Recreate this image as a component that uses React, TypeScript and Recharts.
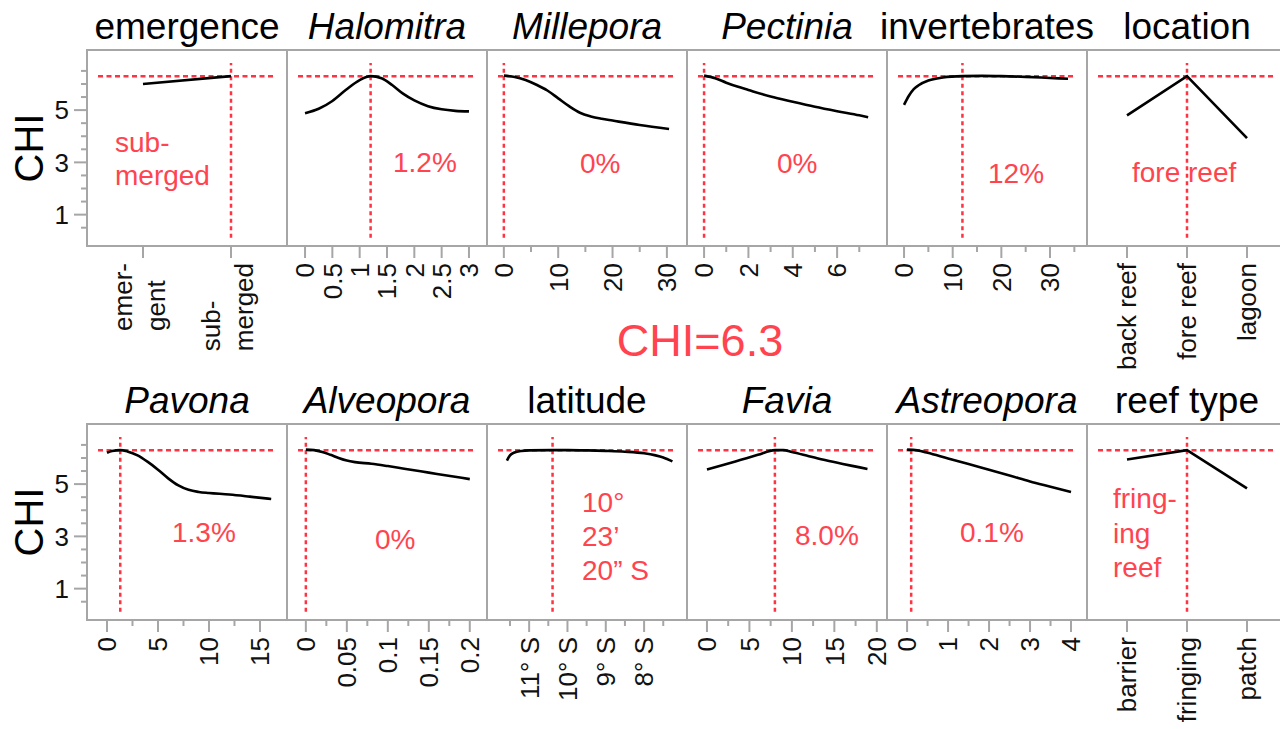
import { LineChart, Line, XAxis, YAxis, ReferenceLine } from "recharts";

const FONT = '"Liberation Sans", Arial, Helvetica, sans-serif';
const RED_LINE = "#ff3341";
const RED_TEXT = "#ff4450";
const GRAY = "#a6a6a6";

const CURRENT_CHI = 6.3;
const chiTicks = [0.5, 1, 1.5, 2, 2.5, 3, 3.5, 4, 4.5, 5, 5.5, 6, 6.5];
const chiMajor = [1, 3, 5];

// top row
const emergenceLevels = ["emergent", "submerged"];
const emergenceTickLabels = ["emer-\ngent", "sub-\nmerged"];
const emergenceCHI = [6.0, 6.3];

const halomitraX = [0, 0.25, 0.5, 0.75, 1.0, 1.2, 1.4, 1.6, 1.8, 2.0, 2.25, 2.5, 2.75, 3.0];
const halomitraCHI = [4.88, 5.05, 5.35, 5.78, 6.15, 6.3, 6.22, 5.95, 5.62, 5.37, 5.15, 5.03, 4.97, 4.95];
const halomitraTicks = [0, 0.5, 1, 1.5, 2, 2.5, 3];

const milleporaX = [0, 2, 4, 6, 8, 10, 12, 14, 16, 18, 20, 25, 30.4];
const milleporaCHI = [6.32, 6.27, 6.15, 5.97, 5.75, 5.45, 5.15, 4.9, 4.76, 4.67, 4.6, 4.43, 4.28];
const milleporaTicks = [0, 10, 20, 30];
const milleporaMinor = [5, 15, 25];

const pectiniaX = [0, 0.5, 1, 1.5, 2, 3, 4, 5, 6, 7, 7.4];
const pectiniaCHI = [6.32, 6.22, 6.05, 5.9, 5.77, 5.52, 5.32, 5.13, 4.96, 4.8, 4.73];
const pectiniaTicks = [0, 2, 4, 6];
const pectiniaMinor = [1, 3, 5, 7];

const invertebratesX = [0, 1, 2, 3, 5, 8, 12, 16, 20, 25, 30, 33.7];
const invertebratesCHI = [5.2, 5.55, 5.8, 5.95, 6.13, 6.25, 6.3, 6.31, 6.3, 6.27, 6.23, 6.2];
const invertebratesTicks = [0, 10, 20, 30];
const invertebratesMinor = [5, 15, 25, 35];

const locationLevels = ["back reef", "fore reef", "lagoon"];
const locationCHI = [4.8, 6.3, 3.93];

// bottom row
const pavonaX = [0, 0.5, 1.3, 2, 3, 4, 5, 6, 7, 8, 9, 10, 12, 14, 16.1];
const pavonaCHI = [6.2, 6.27, 6.3, 6.25, 6.1, 5.85, 5.55, 5.22, 4.95, 4.78, 4.7, 4.66, 4.6, 4.52, 4.43];
const pavonaTicks = [0, 5, 10, 15];
const pavonaMinor = [2.5, 7.5, 12.5];

const alveoporaX = [0, 0.01, 0.02, 0.03, 0.04, 0.05, 0.06, 0.08, 0.1, 0.12, 0.14, 0.16, 0.18, 0.2];
const alveoporaCHI = [6.32, 6.3, 6.23, 6.12, 6.0, 5.9, 5.84, 5.78, 5.69, 5.59, 5.49, 5.39, 5.29, 5.19];
const alveoporaTicks = [0, 0.05, 0.1, 0.15, 0.2];
const alveoporaMinor = [0.025, 0.075, 0.125, 0.175];

const latitudeX = [-11.58, -11.5, -11.4, -11.2, -11, -10.39, -10, -9.5, -9, -8.5, -8, -7.7, -7.5, -7.26];
const latitudeCHI = [5.9, 6.1, 6.2, 6.27, 6.29, 6.3, 6.3, 6.29, 6.27, 6.24, 6.18, 6.1, 6.02, 5.87];
const latitudeTicks = [-11, -10, -9, -8];
const latitudeTickLabels = ["11° S", "10° S", "9° S", "8° S"];
const latitudeMinor = [-11.5, -10.5, -9.5, -8.5, -7.5];

const faviaX = [0, 2, 4, 6, 8, 9, 10, 12, 14, 16, 18, 18.9];
const faviaCHI = [5.56, 5.74, 5.93, 6.12, 6.3, 6.3, 6.23, 6.07, 5.91, 5.77, 5.64, 5.58];
const faviaTicks = [0, 5, 10, 15, 20];
const faviaMinor = [2.5, 7.5, 12.5, 17.5];

const astreoporaX = [0, 0.25, 0.5, 1, 1.5, 2, 2.5, 3, 3.5, 4];
const astreoporaCHI = [6.32, 6.29, 6.2, 5.98, 5.77, 5.55, 5.33, 5.1, 4.9, 4.7];
const astreoporaTicks = [0, 1, 2, 3, 4];
const astreoporaMinor = [0.5, 1.5, 2.5, 3.5];

const reefTypeLevels = ["barrier", "fringing", "patch"];
const reefTypeCHI = [5.94, 6.3, 4.84];

type Panel = {
  title: string;
  italic: boolean;
  cat: boolean;
  xs: (number | string)[];
  ys: number[];
  ticks: (number | string)[];
  labels: string[];
  minor: number[];
  domain?: [number, number];
  pad?: number;
  refX: number | string;
  note: string[];
  noteDx: number;
  noteDy: number;
  noteLh: number;
};

const topRow: Panel[] = [
  { title: "emergence", italic: false, cat: true, xs: emergenceLevels, ys: emergenceCHI, ticks: emergenceLevels, labels: emergenceTickLabels, minor: [], pad: 56, refX: "submerged", note: ["sub-", "merged"], noteDx: 28, noteDy: 76, noteLh: 33 },
  { title: "Halomitra", italic: true, cat: false, xs: halomitraX, ys: halomitraCHI, ticks: halomitraTicks, labels: halomitraTicks.map(String), minor: [], domain: [-0.33, 3.33], refX: 1.2, note: ["1.2%"], noteDx: 106, noteDy: 96, noteLh: 34 },
  { title: "Millepora", italic: true, cat: false, xs: milleporaX, ys: milleporaCHI, ticks: milleporaTicks, labels: milleporaTicks.map(String), minor: milleporaMinor, domain: [-3.1, 33.7], refX: 0, note: ["0%"], noteDx: 93, noteDy: 97, noteLh: 34 },
  { title: "Pectinia", italic: true, cat: false, xs: pectiniaX, ys: pectiniaCHI, ticks: pectiniaTicks, labels: pectiniaTicks.map(String), minor: pectiniaMinor, domain: [-0.77, 8.25], refX: 0, note: ["0%"], noteDx: 90, noteDy: 97, noteLh: 34 },
  { title: "invertebrates", italic: false, cat: false, xs: invertebratesX, ys: invertebratesCHI, ticks: invertebratesTicks, labels: invertebratesTicks.map(String), minor: invertebratesMinor, domain: [-3.5, 37.6], refX: 12, note: ["12%"], noteDx: 101, noteDy: 107, noteLh: 34 },
  { title: "location", italic: false, cat: true, xs: locationLevels, ys: locationCHI, ticks: locationLevels, labels: locationLevels, minor: [], pad: 40, refX: "fore reef", note: ["fore reef"], noteDx: 45, noteDy: 106, noteLh: 34 },
];

const bottomRow: Panel[] = [
  { title: "Pavona", italic: true, cat: false, xs: pavonaX, ys: pavonaCHI, ticks: pavonaTicks, labels: pavonaTicks.map(String), minor: pavonaMinor, domain: [-1.96, 17.65], refX: 1.3, note: ["1.3%"], noteDx: 85, noteDy: 92, noteLh: 34 },
  { title: "Alveopora", italic: true, cat: false, xs: alveoporaX, ys: alveoporaCHI, ticks: alveoporaTicks, labels: alveoporaTicks.map(String), minor: alveoporaMinor, domain: [-0.023, 0.221], refX: 0, note: ["0%"], noteDx: 88, noteDy: 99, noteLh: 34 },
  { title: "latitude", italic: false, cat: false, xs: latitudeX, ys: latitudeCHI, ticks: latitudeTicks, labels: latitudeTickLabels, minor: latitudeMinor, domain: [-12.1, -6.88], refX: -10.389, note: ["10°", "23’", "20” S"], noteDx: 95, noteDy: 62, noteLh: 34 },
  { title: "Favia", italic: true, cat: false, xs: faviaX, ys: faviaCHI, ticks: faviaTicks, labels: faviaTicks.map(String), minor: faviaMinor, domain: [-2.35, 21.2], refX: 8, note: ["8.0%"], noteDx: 108, noteDy: 95, noteLh: 34 },
  { title: "Astreopora", italic: true, cat: false, xs: astreoporaX, ys: astreoporaCHI, ticks: astreoporaTicks, labels: astreoporaTicks.map(String), minor: astreoporaMinor, domain: [-0.49, 4.39], refX: 0.1, note: ["0.1%"], noteDx: 73, noteDy: 92, noteLh: 34 },
  { title: "reef type", italic: false, cat: true, xs: reefTypeLevels, ys: reefTypeCHI, ticks: reefTypeLevels, labels: reefTypeLevels, minor: [], pad: 40, refX: "fringing", note: ["fring-", "ing", "reef"], noteDx: 26, noteDy: 58, noteLh: 34.5 },
];

const PANEL_X0 = 87;
const PANEL_W = 200;
const PANEL_H = 196;
const AXIS_H = 140;
const ROW_TOPS = [50, 424];
const TICK_FS = 26;

// rough Arial advance widths, used to left-align the two-line tick labels
function textWidth(s: string) {
  let w = 0;
  for (const ch of s) {
    if ("ilj".includes(ch)) w += 0.222;
    else if ("ft ".includes(ch)) w += 0.278;
    else if ("r-".includes(ch)) w += 0.333;
    else if (ch === "m") w += 0.833;
    else if ("sckvy".includes(ch)) w += 0.5;
    else w += 0.556;
  }
  return w * TICK_FS;
}

function renderXTick(props: any, panel: Panel) {
  const { x, y, payload } = props;
  const v = payload.value;
  const isMinor = panel.minor.includes(v);
  const len = isMinor ? 6 : 12;
  let label: any = null;
  if (!isMinor) {
    const idx = panel.ticks.indexOf(v);
    const text = idx >= 0 ? panel.labels[idx] : String(v);
    const lines = text.split("\n");
    const top = y + 17;
    const common = { fontSize: TICK_FS, fill: "#111", fontFamily: FONT, dy: "0.36em" };
    if (lines.length === 1) {
      label = (
        <text x={x} y={top} transform={`rotate(-90 ${x} ${top})`} textAnchor="end" {...common}>
          {text}
        </text>
      );
    } else {
      const start = top + Math.max(...lines.map(textWidth));
      label = lines.map((ln, i) => {
        const lx = x - 4 + (i - (lines.length - 1) / 2) * 33;
        return (
          <text key={i} x={lx} y={start} transform={`rotate(-90 ${lx} ${start})`} textAnchor="start" {...common}>
            {ln}
          </text>
        );
      });
    }
  }
  return (
    <g>
      <line x1={x} x2={x} y1={y} y2={y + len} stroke={GRAY} strokeWidth={2} />
      {label}
    </g>
  );
}

function renderYTick(props: any) {
  const { x, y, payload } = props;
  const major = chiMajor.includes(payload.value);
  return (
    <g>
      <line x1={x - (major ? 13 : 6)} x2={x} y1={y} y2={y} stroke={GRAY} strokeWidth={2} />
      {major && (
        <text x={x - 18} y={y} dy="0.36em" textAnchor="end" fontSize={TICK_FS} fill="#111" fontFamily={FONT}>
          {payload.value}
        </text>
      )}
    </g>
  );
}

const hLine = (p: any) => (
  <line x1={p.x1 + 11} x2={p.x2 - 14} y1={p.y1} y2={p.y2} stroke={RED_LINE} strokeWidth={2.5} strokeDasharray="5 3.5" />
);

function PanelChart({ panel, first }: { panel: Panel; first: boolean }) {
  const data = panel.xs.map((x, i) => ({ x, chi: panel.ys[i] }));
  const yW = first ? PANEL_X0 : 0;
  const allTicks = panel.cat
    ? undefined
    : [...(panel.ticks as number[]), ...panel.minor].sort((a, b) => a - b);
  return (
    <LineChart width={PANEL_W + yW} height={PANEL_H + AXIS_H} data={data} margin={{ top: 0, right: 0, bottom: 0, left: 0 }}>
      {panel.cat ? (
        <XAxis
          dataKey="x"
          type="category"
          scale="point"
          padding={{ left: panel.pad!, right: panel.pad! }}
          interval={0}
          tickSize={0}
          tickMargin={0}
          axisLine={false}
          tickLine={false}
          height={AXIS_H}
          tick={(p: any) => renderXTick(p, panel)}
        />
      ) : (
        <XAxis
          dataKey="x"
          type="number"
          domain={panel.domain}
          allowDataOverflow
          ticks={allTicks}
          interval={0}
          tickSize={0}
          tickMargin={0}
          axisLine={false}
          tickLine={false}
          height={AXIS_H}
          tick={(p: any) => renderXTick(p, panel)}
        />
      )}
      <YAxis
        type="number"
        domain={[-0.2, 7.3]}
        allowDataOverflow
        ticks={chiTicks}
        interval={0}
        tickSize={0}
        tickMargin={0}
        axisLine={false}
        tickLine={false}
        width={PANEL_X0}
        hide={!first}
        tick={renderYTick}
      />
      <ReferenceLine y={CURRENT_CHI} shape={hLine} />
      <ReferenceLine
        segment={[
          { x: panel.refX, y: 0.12 },
          { x: panel.refX, y: 6.8 },
        ]}
        stroke={RED_LINE}
        strokeWidth={2.5}
        strokeDasharray="4 3.5"
      />
      <Line
        dataKey="chi"
        type={panel.cat ? "linear" : "monotone"}
        stroke="#000"
        strokeWidth={2.6}
        dot={false}
        isAnimationActive={false}
      />
    </LineChart>
  );
}

function Row({ panels, top }: { panels: Panel[]; top: number }) {
  return (
    <>
      {panels.map((p, i) => {
        const px = PANEL_X0 + i * PANEL_W;
        return (
          <div key={"b" + i}>
            <div
              style={{
                position: "absolute",
                left: px - 1,
                top: top - 1,
                width: PANEL_W + 2,
                height: PANEL_H + 2,
                border: `2px solid ${GRAY}`,
                boxSizing: "border-box",
              }}
            />
            <div
              style={{
                position: "absolute",
                left: px - 20,
                top: top - 42,
                width: PANEL_W + 40,
                textAlign: "center",
                fontSize: 37,
                lineHeight: "37px",
                fontStyle: p.italic ? "italic" : "normal",
                whiteSpace: "nowrap",
                color: "#000",
              }}
            >
              {p.title}
            </div>
            <div style={{ position: "absolute", left: i === 0 ? 0 : px, top }}>
              <PanelChart panel={p} first={i === 0} />
            </div>
            <div
              style={{
                position: "absolute",
                left: px + p.noteDx,
                top: top + p.noteDy,
                fontSize: 28,
                lineHeight: `${p.noteLh}px`,
                color: RED_TEXT,
                whiteSpace: "pre",
              }}
            >
              {p.note.join("\n")}
            </div>
          </div>
        );
      })}
      <div
        style={{
          position: "absolute",
          left: 29 - 60,
          top: top + PANEL_H / 2 - 22,
          width: 120,
          height: 44,
          lineHeight: "44px",
          fontSize: 40,
          textAlign: "center",
          transform: "rotate(-90deg)",
          color: "#000",
        }}
      >
        CHI
      </div>
    </>
  );
}

export default function App() {
  return (
    <div
      style={{
        position: "absolute",
        left: 0,
        top: 0,
        width: 1280,
        height: 729,
        overflow: "hidden",
        background: "#fff",
        fontFamily: FONT,
      }}
    >
      <style>{".recharts-surface { overflow: visible; }"}</style>
      <Row panels={topRow} top={ROW_TOPS[0]} />
      <Row panels={bottomRow} top={ROW_TOPS[1]} />
      <div
        style={{
          position: "absolute",
          left: 500,
          top: 318,
          width: 400,
          textAlign: "center",
          fontSize: 45,
          lineHeight: "45px",
          color: RED_TEXT,
        }}
      >
        CHI=6.3
      </div>
    </div>
  );
}
